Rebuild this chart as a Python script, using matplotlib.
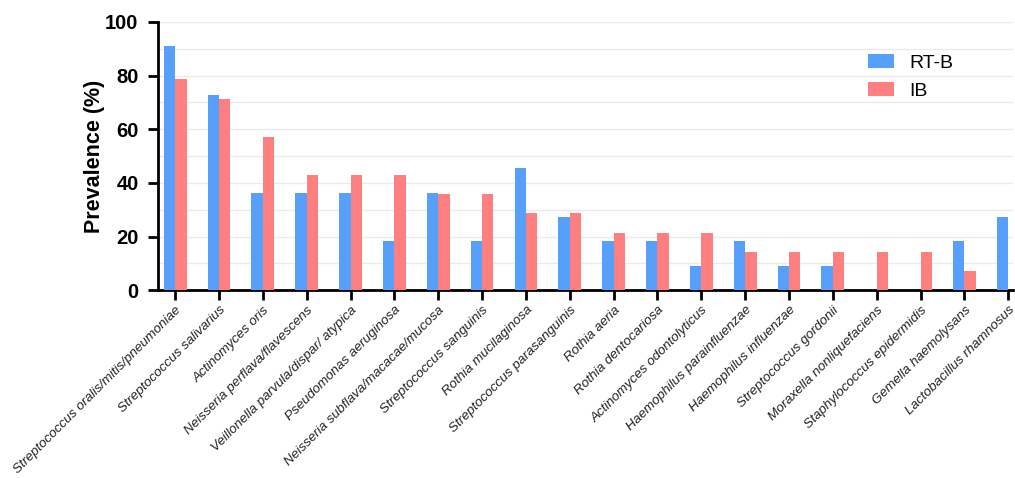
import numpy as np
import matplotlib
matplotlib.use("Agg")
import matplotlib.pyplot as plt

species = [
    "Streptococcus oralis/mitis/pneumoniae",
    "Streptococcus salivarius",
    "Actinomyces oris",
    "Neisseria perflava/flavescens",
    "Veillonella parvula/dispar/ atypica",
    "Pseudomonas aeruginosa",
    "Neisseria subflava/macacae/mucosa",
    "Streptococcus sanguinis",
    "Rothia mucilaginosa",
    "Streptococcus parasanguinis",
    "Rothia aeria",
    "Rothia dentocariosa",
    "Actinomyces odontolyticus",
    "Haemophilus parainfluenzae",
    "Haemophilus influenzae",
    "Streptococcus gordonii",
    "Moraxella nonliquefaciens",
    "Staphylococcus epidermidis",
    "Gemella haemolysans",
    "Lactobacillus rhamnosus",
]
rt_b = [90.9, 72.7, 36.4, 36.4, 36.4, 18.2, 36.4, 18.2, 45.5, 27.3,
        18.2, 18.2, 9.1, 18.2, 9.1, 9.1, 0, 0, 18.2, 27.3]
ib = [78.6, 71.4, 57.1, 42.9, 42.9, 42.9, 35.7, 35.7, 28.6, 28.6,
      21.4, 21.4, 21.4, 14.3, 14.3, 14.3, 14.3, 14.3, 7.1, 0]

BLUE = "#56a0fb"
RED = "#fe7f80"

plt.rcParams["font.family"] = ["Liberation Sans", "DejaVu Sans"]

fig = plt.figure(figsize=(10.15, 4.78), dpi=100)
ax = fig.add_axes([0.1557, 0.393, 0.842, 0.561])

x = np.arange(len(species))
w = 0.26
ax.bar(x - w / 2, rt_b, w, color=BLUE, label="RT-B", zorder=3)
ax.bar(x + w / 2, ib, w, color=RED, label="IB", zorder=3)

ax.set_ylim(0, 100)
ax.set_xlim(-0.39, 19.1)
ax.set_yticks(range(0, 101, 10), minor=True)
ax.grid(axis="y", which="both", color="#ebebeb", lw=1, zorder=0)
ax.tick_params(axis="y", which="minor", length=0)

for s in ["top", "right"]:
    ax.spines[s].set_visible(False)
for s in ["left", "bottom"]:
    ax.spines[s].set_linewidth(2)
ax.tick_params(axis="both", which="major", width=2, length=7, direction="out")
ax.tick_params(axis="y", which="major", pad=7)
ax.tick_params(axis="x", which="major", pad=3)

ax.set_yticks(range(0, 101, 20))
ax.set_yticklabels([str(v) for v in range(0, 101, 20)],
                   fontsize=14.5, fontweight="bold")
ax.set_ylabel("Prevalence (%)", fontsize=15.5, fontweight="bold", labelpad=0)

ax.set_xticks(x)
ax.set_xticklabels(species, rotation=45, ha="right", rotation_mode="anchor",
                   fontsize=9.7, fontstyle="italic", color="#222222")

ax.legend(loc="upper left", bbox_to_anchor=(0.81, 0.945), frameon=False,
          fontsize=14, handlelength=1.35, handleheight=0.75,
          handletextpad=0.8, labelspacing=0.5)

fig.savefig("out.png", dpi=100)
